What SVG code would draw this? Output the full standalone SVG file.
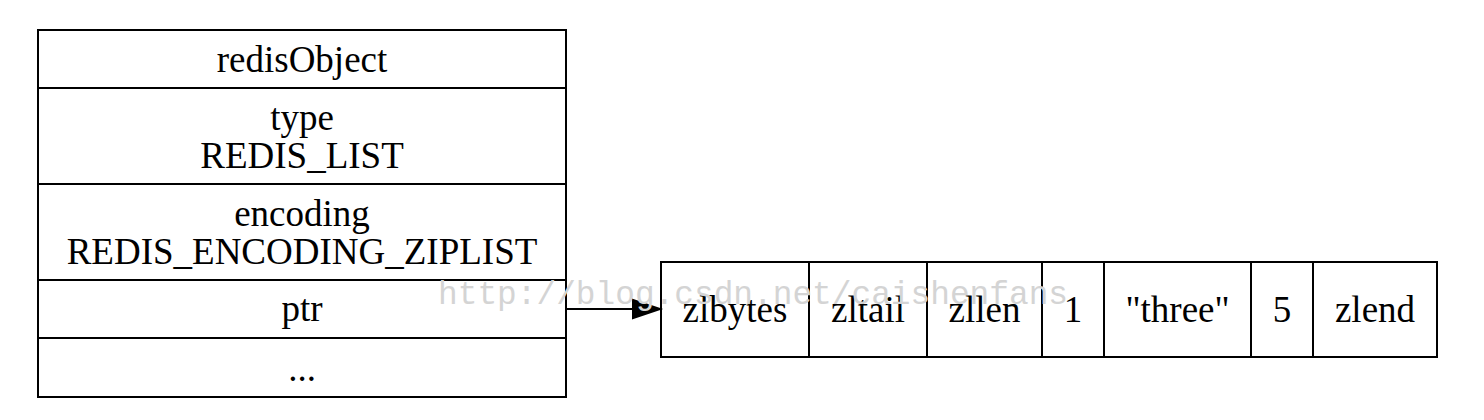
<svg xmlns="http://www.w3.org/2000/svg" width="1484" height="420" viewBox="0 0 1484 420">
  <style>
    .box { fill: #fff; stroke: #000; stroke-width: 2; }
    .sep { stroke: #000; stroke-width: 2; fill: none; }
    .lbl { font-family: "Liberation Serif", "Times New Roman", serif; font-size: 37px; fill: #000; text-anchor: middle; }
    .edge { stroke: #000; stroke-width: 2; fill: none; }
    .wm { font-family: "Liberation Mono", "Courier New", monospace; font-size: 33px; fill: #d4d4d4; }
  </style>
  <defs>
    <marker id="arrow" markerUnits="userSpaceOnUse" markerWidth="32" markerHeight="24" refX="29" refY="12" orient="auto" overflow="visible">
      <path d="M2,3 L29,12 L2,21 Z" fill="#000" stroke="#000" stroke-width="2"/>
    </marker>
  </defs>
  <rect width="1484" height="420" fill="#fff"/>

  <g id="redisObject">
    <rect class="box" x="38" y="30" width="528" height="367"/>
    <line class="sep" x1="38" y1="88" x2="566" y2="88"/>
    <line class="sep" x1="38" y1="184" x2="566" y2="184"/>
    <line class="sep" x1="38" y1="280" x2="566" y2="280"/>
    <line class="sep" x1="38" y1="338" x2="566" y2="338"/>
    <text class="lbl" x="302" y="72">redisObject</text>
    <text class="lbl" x="302" y="130">type</text>
    <text class="lbl" x="302" y="168">REDIS_LIST</text>
    <text class="lbl" x="302" y="226">encoding</text>
    <text class="lbl" x="302" y="264">REDIS_ENCODING_ZIPLIST</text>
    <text class="lbl" x="302" y="321">ptr</text>
    <text class="lbl" x="302" y="381">...</text>
  </g>

  <g id="ziplist">
    <rect class="box" x="661" y="262" width="776" height="95"/>
    <line class="sep" x1="809" y1="262" x2="809" y2="357"/>
    <line class="sep" x1="927" y1="262" x2="927" y2="357"/>
    <line class="sep" x1="1042" y1="262" x2="1042" y2="357"/>
    <line class="sep" x1="1104" y1="262" x2="1104" y2="357"/>
    <line class="sep" x1="1251" y1="262" x2="1251" y2="357"/>
    <line class="sep" x1="1313" y1="262" x2="1313" y2="357"/>
    <text class="lbl" x="735" y="322">zlbytes</text>
    <text class="lbl" x="868" y="322">zltail</text>
    <text class="lbl" x="984.5" y="322">zllen</text>
    <text class="lbl" x="1073" y="322">1</text>
    <text class="lbl" x="1177.5" y="322">"three"</text>
    <text class="lbl" x="1282" y="322">5</text>
    <text class="lbl" x="1375" y="322">zlend</text>
  </g>

  <g id="connectors">
    <line class="edge" x1="566" y1="309" x2="660" y2="309" marker-end="url(#arrow)"/>
  </g>

  <text class="wm" x="438" y="304" textLength="630" lengthAdjust="spacingAndGlyphs">http://blog.csdn.net/caishenfans</text>
</svg>
